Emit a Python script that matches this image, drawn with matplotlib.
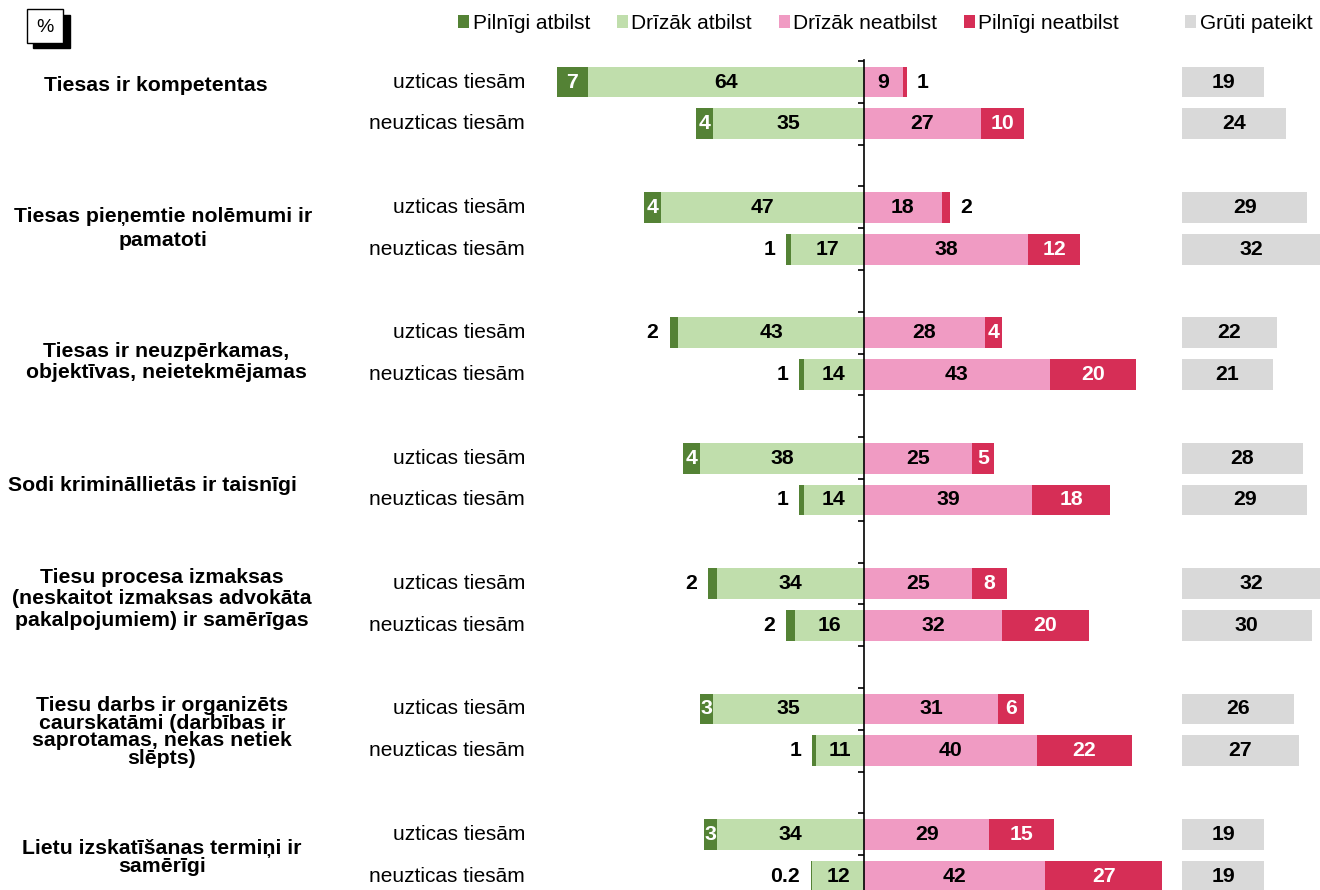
import numpy as np
import matplotlib
matplotlib.use("Agg")
import matplotlib.pyplot as plt
from matplotlib.patches import Rectangle
import matplotlib.transforms as mtransforms

plt.rcParams['font.family'] = ['Liberation Sans', 'DejaVu Sans']

# ---------------- data ----------------
groups = [
    "Tiesas ir kompetentas",
    "Tiesas pieņemtie nolēmumi ir\npamatoti",
    "Tiesas ir neuzpērkamas,\nobjektīvas, neietekmējamas",
    "Sodi krimināllietās ir taisnīgi",
    "Tiesu procesa izmaksas\n(neskaitot izmaksas advokāta\npakalpojumiem) ir samērīgas",
    "Tiesu darbs ir organizēts\ncaurskatāmi (darbības ir\nsaprotamas, nekas netiek\nslēpts)",
    "Lietu izskatīšanas termiņi ir\nsamērīgi",
]
subgroups = ["uzticas tiesām", "neuzticas tiesām"]
series_names = ["Pilnīgi atbilst", "Drīzāk atbilst", "Drīzāk neatbilst",
                "Pilnīgi neatbilst", "Grūti pateikt"]

# rows alternate: uzticas, neuzticas for each group
pilnigi_atbilst   = [7, 4, 4, 1, 2, 1, 4, 1, 2, 2, 3, 1, 3, 0.2]
drizak_atbilst    = [64, 35, 47, 17, 43, 14, 38, 14, 34, 16, 35, 11, 34, 12]
drizak_neatbilst  = [9, 27, 18, 38, 28, 43, 25, 39, 25, 32, 31, 40, 29, 42]
pilnigi_neatbilst = [1, 10, 2, 12, 4, 20, 5, 18, 8, 20, 6, 22, 15, 27]
gruti_pateikt     = [19, 24, 29, 32, 22, 21, 28, 29, 32, 30, 26, 27, 19, 19]

# ---------------- style ----------------
C_DG = "#548235"
C_LG = "#C0DEAC"
C_PK = "#F09BC3"
C_CR = "#D62E56"
C_GR = "#D9D9D9"

W, H = 1320, 890
fig = plt.figure(figsize=(W / 100, H / 100), dpi=100)

PXU = 4.32          # pixels per percentage unit
ZERO_PX = 864
AX_L, AX_R = 540, 1170
AX_TOP, AX_BOT = 60, 890
ROW0_PX, ROW_PITCH = 82, 41.8

y_top = -(ROW0_PX - AX_TOP) / ROW_PITCH
y_bot = (AX_BOT - ROW0_PX) / ROW_PITCH

ax = fig.add_axes([AX_L / W, 1 - AX_BOT / H, (AX_R - AX_L) / W, (AX_BOT - AX_TOP) / H])
ax.set_xlim((AX_L - ZERO_PX) / PXU, (AX_R - ZERO_PX) / PXU)
ax.set_ylim(y_bot, y_top)

GX_L = 1182
axg = fig.add_axes([GX_L / W, 1 - AX_BOT / H, (W - GX_L) / W, (AX_BOT - AX_TOP) / H])
axg.set_xlim(0, (W - GX_L) / PXU)
axg.set_ylim(y_bot, y_top)
axg.axis("off")

# row positions: 3 rows per group (2 bars + gap)
ypos = []
for g in range(len(groups)):
    ypos += [3 * g, 3 * g + 1]
ypos = np.array(ypos, dtype=float)

dg = np.array(pilnigi_atbilst, dtype=float)
lg = np.array(drizak_atbilst, dtype=float)
pk = np.array(drizak_neatbilst, dtype=float)
cr = np.array(pilnigi_neatbilst, dtype=float)
gr = np.array(gruti_pateikt, dtype=float)

BH = 0.74
b_dg = ax.barh(ypos, dg, left=-(lg + dg), height=BH, color=C_DG, label=series_names[0])
b_lg = ax.barh(ypos, lg, left=-lg, height=BH, color=C_LG, label=series_names[1])
b_pk = ax.barh(ypos, pk, left=0, height=BH, color=C_PK, label=series_names[2])
b_cr = ax.barh(ypos, cr, left=pk, height=BH, color=C_CR, label=series_names[3])
b_gr = axg.barh(ypos, gr, left=0, height=BH, color=C_GR, label=series_names[4])

FS = 15.3
def fmt(v):
    return f"{v:g}"

for i, y in enumerate(ypos):
    # dark green
    if dg[i] >= 3:
        ax.text(-(lg[i] + dg[i] / 2), y, fmt(dg[i]), ha="center", va="center",
                color="white", fontsize=FS, fontweight="bold")
    else:
        ax.annotate(fmt(dg[i]), (-(lg[i] + dg[i]), y), xytext=(-8, 0),
                    textcoords="offset points", ha="right", va="center",
                    color="black", fontsize=FS, fontweight="bold")
    ax.text(-lg[i] / 2, y, fmt(lg[i]), ha="center", va="center",
            color="black", fontsize=FS, fontweight="bold")
    ax.text(pk[i] / 2, y, fmt(pk[i]), ha="center", va="center",
            color="black", fontsize=FS, fontweight="bold")
    if cr[i] >= 3:
        ax.text(pk[i] + cr[i] / 2, y, fmt(cr[i]), ha="center", va="center",
                color="white", fontsize=FS, fontweight="bold")
    else:
        ax.annotate(fmt(cr[i]), (pk[i] + cr[i], y), xytext=(7, 0),
                    textcoords="offset points", ha="left", va="center",
                    color="black", fontsize=FS, fontweight="bold")
    axg.text(gr[i] / 2, y, fmt(gr[i]), ha="center", va="center",
             color="black", fontsize=FS, fontweight="bold")

# axis styling
for s in ["top", "right", "bottom"]:
    ax.spines[s].set_visible(False)
ax.spines["left"].set_position(("data", 0))
ax.spines["left"].set_linewidth(1.2)
ax.set_xticks([])
ax.set_yticks(np.arange(-0.5, y_bot, 1.0))
ax.set_yticklabels([])
ax.tick_params(axis="y", direction="out", length=4.5, width=1.2, color="black")
ax.patch.set_visible(False)

# sub-group labels
tr = mtransforms.blended_transform_factory(fig.transFigure, ax.transData)
for i, y in enumerate(ypos):
    ax.text(525 / W, y, subgroups[i % 2], transform=tr, ha="right", va="center",
            fontsize=15, color="black")

# group labels
label_x = [156, 163, 166, 152, 162, 162, 162]
label_dy = [-0.42, 0.0, 0.19, 0.16, -0.14, 0.05, 0.05]
label_ls = [1.2, 1.33, 1.12, 1.2, 1.17, 0.9, 0.92]
for g, name in enumerate(groups):
    ax.text(label_x[g] / W, 3 * g + 0.5 + label_dy[g], name, transform=tr, ha="center",
            va="center", fontsize=FS, fontweight="bold", multialignment="center",
            linespacing=label_ls[g])

# legends
leg_kw = dict(frameon=False, fontsize=15, handlelength=0.53, handleheight=0.53,
              handletextpad=0.17, borderpad=0, borderaxespad=0, loc="center left")
fig.legend(handles=[b_dg, b_lg, b_pk, b_cr], ncol=4, columnspacing=1.28,
           bbox_to_anchor=(458 / W, 1 - 23.5 / H), **leg_kw)
fig.legend(handles=[b_gr], bbox_to_anchor=(1185 / W, 1 - 23.5 / H), **leg_kw)

# % box with shadow
def frect(x0, y0, x1, y1, **kw):
    return Rectangle((x0 / W, 1 - y1 / H), (x1 - x0) / W, (y1 - y0) / H,
                     transform=fig.transFigure, **kw)
fig.patches.append(frect(33, 15, 70, 48, facecolor="black", edgecolor="black"))
fig.patches.append(frect(27, 9, 63, 43, facecolor="white", edgecolor="black", linewidth=1))
fig.text(45 / W, 1 - 27 / H, "%", ha="center", va="center", fontsize=14)

fig.savefig("out.png", dpi=100)
